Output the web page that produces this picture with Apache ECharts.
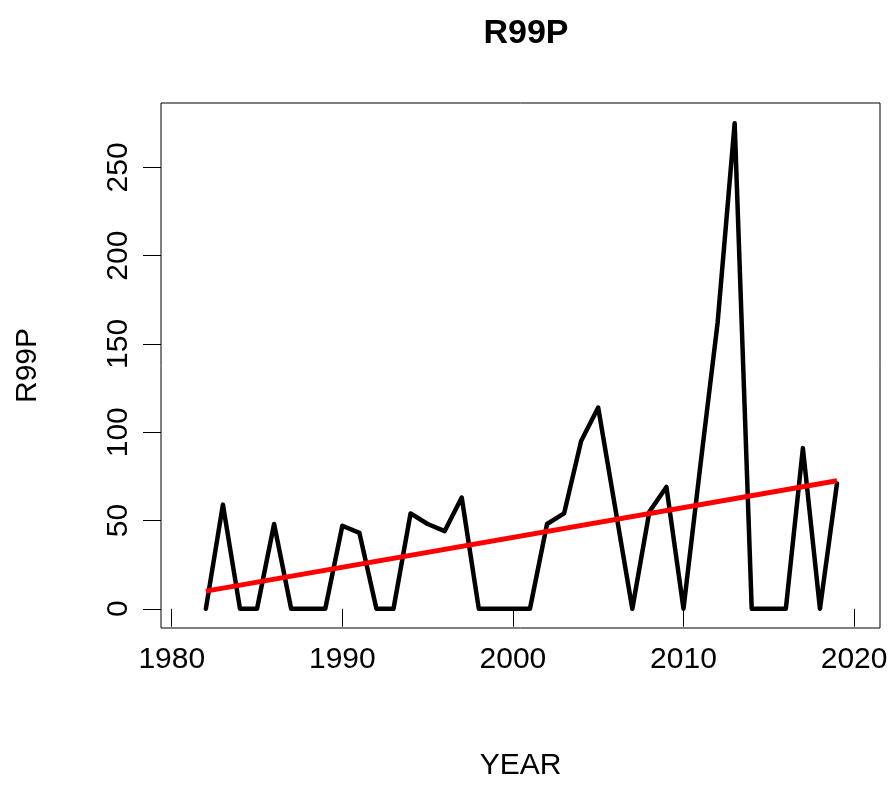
<!DOCTYPE html>
<html>
<head>
<meta charset="utf-8">
<title>R99P</title>
<script src="https://cdn.jsdelivr.net/npm/echarts@6/dist/echarts.min.js"></script>
<style>
  html, body { margin: 0; padding: 0; background: #fff; }
  #chart { width: 895px; height: 786px; }
</style>
</head>
<body>
<div id="chart"></div>
<script>
// Annual R99P values, one per year
const years = [1982, 1983, 1984, 1985, 1986, 1987, 1988, 1989, 1990, 1991,
               1992, 1993, 1994, 1995, 1996, 1997, 1998, 1999, 2000, 2001,
               2002, 2003, 2004, 2005, 2006, 2007, 2008, 2009, 2010, 2011,
               2012, 2013, 2014, 2015, 2016, 2017, 2018, 2019];
const r99p = [0, 59, 0, 0, 48, 0, 0, 0, 47, 43,
              0, 0, 54, 48, 44, 63, 0, 0, 0, 0,
              48, 54, 95, 114, 57, 0, 55, 69, 0, 82,
              162, 275, 0, 0, 0, 91, 0, 71];

// Linear trend line end points
const trendYears = [1982, 2019];
const trendValues = [10, 72.5];

// Tick labels
const xTicks = [1980, 1990, 2000, 2010, 2020];
const yTicks = [0, 50, 100, 150, 200, 250];

const FONT = '"Liberation Sans", Arial, sans-serif';

const chart = echarts.init(document.getElementById('chart'), null, { renderer: 'canvas' });

chart.setOption({
  animation: false,
  backgroundColor: '#fff',
  title: {
    text: 'R99P',
    left: 521,
    textAlign: 'center',
    top: 12,
    textStyle: { fontFamily: FONT, fontSize: 34, fontWeight: 'bold', color: '#000' }
  },
  grid: {
    left: 161, right: 15, top: 103, bottom: 155,
    show: true,
    borderColor: '#000',
    borderWidth: 1,
    backgroundColor: 'transparent'
  },
  xAxis: {
    type: 'value',
    min: 1979.37,
    max: 2021.52,
    name: 'YEAR',
    nameLocation: 'middle',
    nameGap: 123,
    nameTextStyle: { fontFamily: FONT, fontSize: 30, color: '#000' },
    axisLine: { show: false },
    splitLine: { show: false },
    axisTick: {
      show: true, inside: false, length: 18,
      customValues: xTicks,
      lineStyle: { color: '#000', width: 1 }
    },
    axisLabel: {
      customValues: xTicks,
      formatter: (v) => String(v),
      margin: 17,
      fontFamily: FONT, fontSize: 30, color: '#000'
    }
  },
  yAxis: {
    type: 'value',
    min: -10.9,
    max: 286.5,
    name: 'R99P',
    nameLocation: 'middle',
    nameGap: 118,
    nameRotate: 90,
    nameTextStyle: { fontFamily: FONT, fontSize: 30, color: '#000' },
    axisLine: { show: false },
    splitLine: { show: false },
    axisTick: {
      show: true, inside: false, length: 18,
      customValues: yTicks,
      lineStyle: { color: '#000', width: 1 }
    },
    axisLabel: {
      customValues: yTicks,
      formatter: (v) => String(v),
      rotate: 90,
      margin: 27,
      fontFamily: FONT, fontSize: 30, color: '#000'
    }
  },
  series: [
    {
      type: 'line',
      data: years.map((y, i) => [y, r99p[i]]),
      symbol: 'none',
      lineStyle: { color: '#000', width: 4.5, cap: 'round', join: 'round' },
      z: 2
    },
    {
      type: 'line',
      data: trendYears.map((y, i) => [y, trendValues[i]]),
      symbol: 'none',
      lineStyle: { color: '#ff0000', width: 5, cap: 'butt' },
      z: 3
    }
  ]
});
</script>
</body>
</html>
